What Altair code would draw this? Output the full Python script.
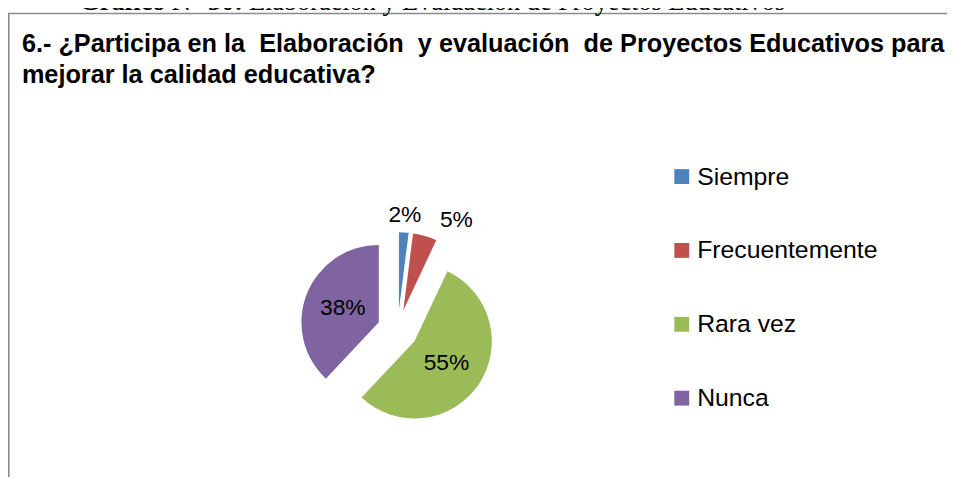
import math
import altair as alt
import pandas as pd

# ---------------- data ----------------
categories = ["Siempre", "Frecuentemente", "Rara vez", "Nunca"]
percentages = [2, 5, 55, 38]
slice_colors = ["#4F81BD", "#C0504D", "#9BBB59", "#8064A2"]

question_lines = [
    "6.- ¿Participa en la\u00a0 Elaboración\u00a0 y evaluación\u00a0 de Proyectos Educativos para",
    "mejorar la calidad educativa?",
]
caption_bold = "Gráfico N° 30:"
caption_rest = "Elaboración y Evaluación de Proyectos Educativos"

# ---------------- layout ----------------
W, H = 947, 471
CX, CY = 393, 322.5      # pie centre (px)
R = 78                   # pie radius
EXPLODE = 20.5           # slice explosion distance
INSIDE_F = 0.5           # inside label radius factor
OUT_GAP = 17             # outside label distance beyond the rim
OUT_PUSH = 27            # horizontal push of side labels
SANS = "Liberation Sans"
SERIF = "Liberation Serif"

total = sum(percentages)
rows = []
acc = 0.0
for cat, v in zip(categories, percentages):
    start, end = acc, acc + v
    acc = end
    mid = (start + end) / 2 / total * 2 * math.pi
    s, c = math.sin(mid), math.cos(mid)
    vx, vy = CX + EXPLODE * s, CY - EXPLODE * c
    if v >= 10:
        lx, ly = vx + INSIDE_F * R * s, vy - INSIDE_F * R * c
    else:
        lx, ly = vx + (R + OUT_GAP) * s, vy - (R + OUT_GAP) * c
        if abs(s) > 0.1:
            lx += OUT_PUSH * (1 if s > 0 else -1)
    rows.append(dict(category=cat, value=v, start=start, end=end,
                     vx=vx, vy=vy, lx=lx, ly=ly, label=f"{v}%"))
df = pd.DataFrame(rows)

pie = alt.Chart(df).mark_arc(outerRadius=R, strokeWidth=0).encode(
    theta=alt.Theta("start:Q", scale=alt.Scale(domain=[0, total], range=[0, 2 * math.pi])),
    theta2="end:Q",
    x=alt.X("vx:Q", scale=None),
    y=alt.Y("vy:Q", scale=None),
    color=alt.Color(
        "category:N",
        sort=categories,
        scale=alt.Scale(domain=categories, range=slice_colors),
        legend=alt.Legend(
            title=None, orient="none", legendX=667, legendY=155.5,
            symbolType="square", symbolSize=225, symbolStrokeWidth=0, symbolOpacity=1,
            labelFont=SANS, labelFontSize=25, labelColor="#000000",
            labelLimit=500, labelOffset=3, rowPadding=48.5, padding=0,
        ),
    ),
)

labels = alt.Chart(df).mark_text(
    font=SANS, fontSize=23, color="#000000", align="center", baseline="middle"
).encode(
    x=alt.X("lx:Q", scale=None),
    y=alt.Y("ly:Q", scale=None),
    text="label:N",
)

# frame of the chart area (left and top borders)
frame_left = alt.Chart(pd.DataFrame({"a": [0]})).mark_rule(color="#8a8a8a", strokeWidth=1.6).encode(
    x=alt.value(0.8), y=alt.value(3.5), y2=alt.value(H)
)
frame_top = alt.Chart(pd.DataFrame({"a": [0]})).mark_rule(color="#8a8a8a", strokeWidth=1.6).encode(
    x=alt.value(0), x2=alt.value(W), y=alt.value(3.5)
)

title_df = pd.DataFrame({"t": question_lines})
title1 = alt.Chart(title_df.iloc[[0]]).mark_text(
    font=SANS, fontSize=25.5, fontWeight="bold", color="#000000", align="left", baseline="alphabetic"
).encode(text="t:N", x=alt.value(14), y=alt.value(42))
title2 = alt.Chart(title_df.iloc[[1]]).mark_text(
    font=SANS, fontSize=25.5, fontWeight="bold", color="#000000", align="left", baseline="alphabetic"
).encode(text="t:N", x=alt.value(14), y=alt.value(73.5))

# caption above the chart box (cut off at the top in the reference)
cap_b = alt.Chart(pd.DataFrame({"t": [caption_bold]})).mark_text(
    font=SERIF, fontSize=26.5, fontWeight="bold", color="#000000", align="left", baseline="alphabetic"
).encode(text="t:N", x=alt.value(72), y=alt.value(0.5))
cap_r = alt.Chart(pd.DataFrame({"t": [caption_rest]})).mark_text(
    font=SERIF, fontSize=26.5, color="#000000", align="left", baseline="alphabetic"
).encode(text="t:N", x=alt.value(243), y=alt.value(0.5))

chart = alt.layer(frame_left, frame_top, cap_b, cap_r, title1, title2, pie, labels).properties(
    width=W, height=H, padding=0,
    autosize=alt.AutoSizeParams(type="none"),
    background="white",
).configure_view(stroke=None)

chart.save("out.html", embed_options={"renderer": "svg", "actions": False})
